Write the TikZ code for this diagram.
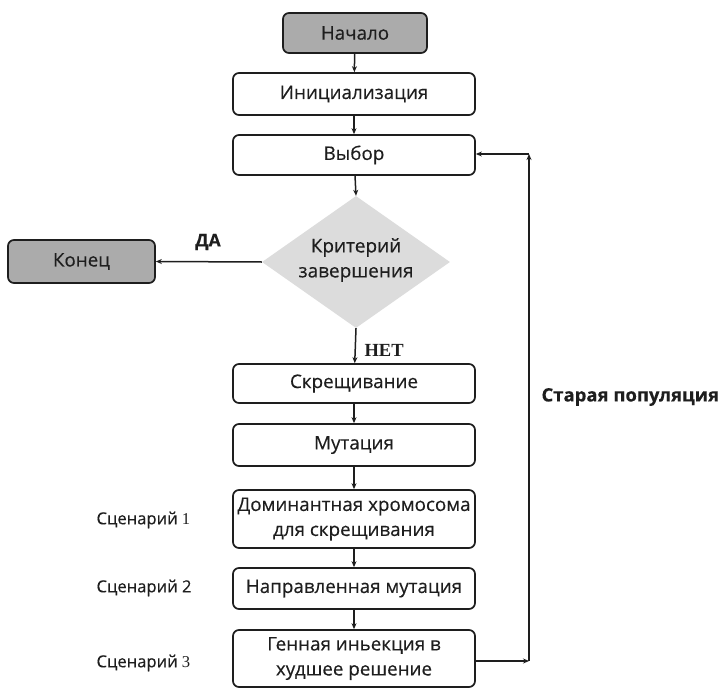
\documentclass[tikz,border=0pt]{standalone}
\usepackage{fontspec}
\setmainfont{Open Sans}[FakeBold=0.35]
\newfontfamily\boldsans{Open Sans Bold}[UprightFont=*, FakeBold=0.2]
\newfontfamily\serifnum{Liberation Serif}
\usetikzlibrary{shapes.geometric,arrows.meta}
\definecolor{darkfill}{HTML}{ABABAB}
\definecolor{diafill}{HTML}{DCDCDC}
\definecolor{ink}{HTML}{1E1E1E}
\begin{document}
\begin{tikzpicture}[x=1pt,y=-1pt,
  box/.style={draw=ink,line width=1.7pt,rounded corners=6pt,minimum width=242pt,align=center,inner sep=0pt,font=\fontsize{18.8}{25}\selectfont,text=ink},
  darkbox/.style={box,fill=darkfill},
  arr/.style={draw=ink,line width=1.5pt,-{Stealth[length=6pt,width=5pt]}},
  lab/.style={font=\fontsize{16.6}{20}\selectfont,text=ink}]
\useasboundingbox (0,0) rectangle (718,688);
\node[darkbox,minimum width=144pt,minimum height=40pt] (start) at (355,33) {Начало};
\node[box,minimum height=42pt] (init) at (354,94) {Инициализация};
\node[box,minimum height=40pt] (sel) at (354,155) {Выбор};
\node[diamond,fill=diafill,minimum width=188pt,minimum height=132pt,inner sep=0pt] (dec) at (356,262) {};
\node[align=center,font=\fontsize{19}{25}\selectfont,text=ink] (dectext) at (356,260) {Критерий\\завершения};
\node[darkbox,minimum width=147pt,minimum height=43pt] (end) at (81.5,261.5) {Конец};
\node[box,minimum height=39pt] (cross) at (354,383.5) {Скрещивание};
\node[box,minimum height=42pt] (mut) at (354,445) {Мутация};
\node[box,minimum height=58pt] (dom) at (354,519) {Доминантная хромосома\\для скрещивания};
\node[box,minimum height=41pt] (dir) at (354,588.5) {Направленная мутация};
\node[box,minimum height=57pt] (gen) at (354,658.5) {Генная иньекция в\\худшее решение};

\node[font=\boldsans\fontsize{17.5}{20}\selectfont,text=ink] (yes) at (208,242) {ДА};
\node[font=\serifnum\bfseries\fontsize{18.5}{20}\selectfont,text=ink,anchor=west] (no) at (361,350) {НЕТ};
\node[lab,anchor=west] (s1) at (93,520) {Сценарий {\serifnum 1}};
\node[lab,anchor=west] (s2) at (93,588) {Сценарий 2};
\node[lab,anchor=west] (s3) at (93,663) {Сценарий {\serifnum 3}};
\node[font=\boldsans\fontsize{18.5}{22}\selectfont,text=ink,anchor=west] (old) at (538,397) {Старая популяция};

\draw[arr] (start) -- (init);
\draw[arr] (init) -- (sel);
\draw[arr] (sel) -- (dec.north);
\draw[arr] (dec.west) -- (end.east);
\draw[arr] (dec.south) -- (cross);
\draw[arr] (cross) -- (mut);
\draw[arr] (mut) -- (dom);
\draw[arr] (dom) -- (dir);
\draw[arr] (dir) -- (gen);
\coordinate (c1) at (529,661);
\coordinate (c2) at (529,154);
\draw[arr] (gen.east |- c1) -- (c1);
\draw[arr] (c1) -- (c2);
\draw[arr] (c2) -- (sel.east |- c2);
\end{tikzpicture}
\end{document}
